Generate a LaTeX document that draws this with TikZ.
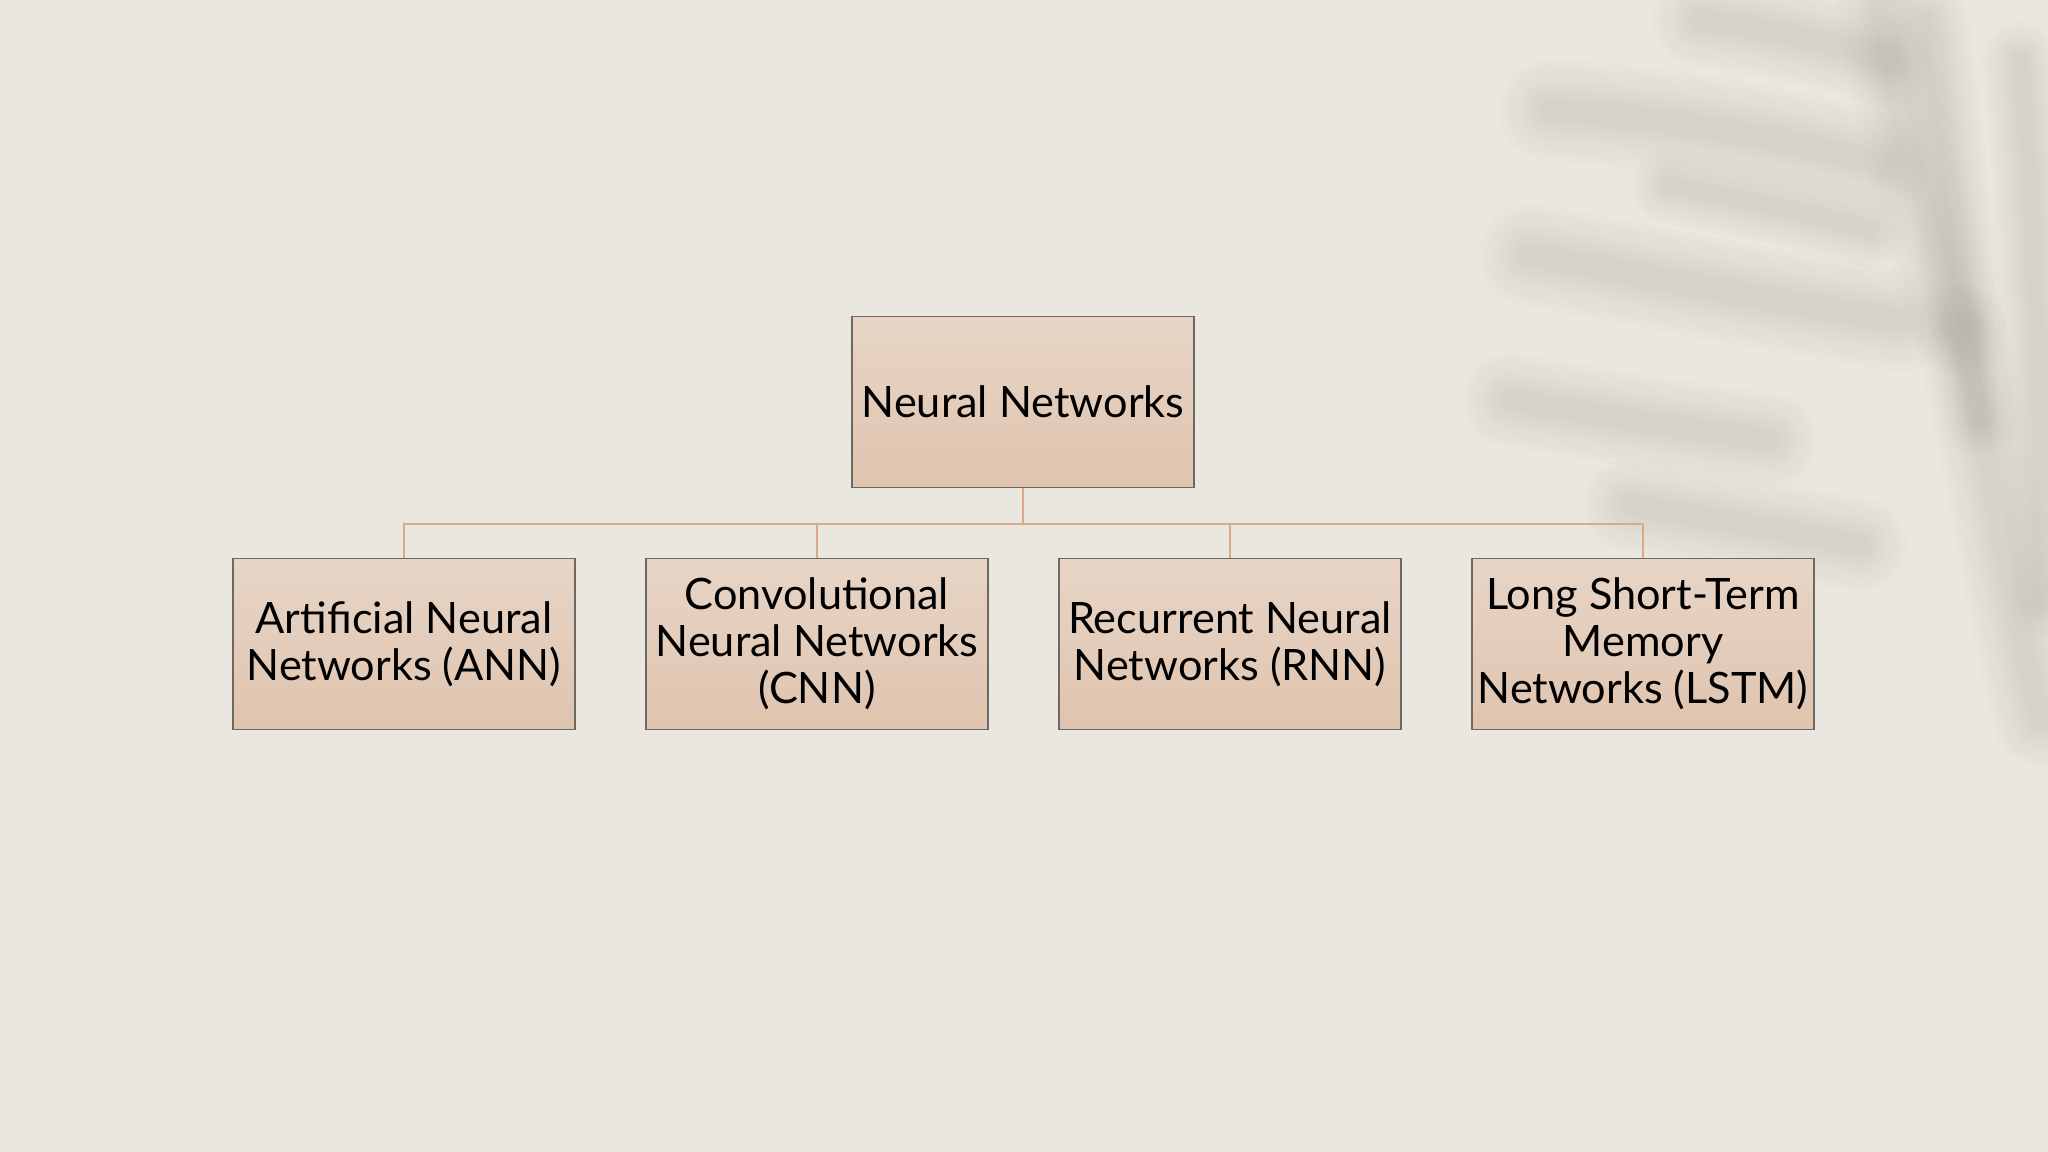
\documentclass[tikz,border=0pt]{standalone}
\usepackage{fontspec}
\setmainfont{Lato}
\definecolor{bgc}{HTML}{EAE7E1}
\definecolor{boxtop}{HTML}{E8D5C6}
\definecolor{boxbot}{HTML}{DFC4AF}
\definecolor{boxline}{HTML}{6F6761}
\definecolor{connc}{HTML}{D9A98A}
\definecolor{shadowc}{HTML}{9E9A94}
\tikzset{
  nnbox/.style={draw=boxline, line width=0.45pt, top color=boxtop, bottom color=boxbot,
    minimum width=3.42cm, minimum height=1.71cm, inner sep=0pt, align=center,
    font=\fontsize{12.3}{13.4}\selectfont, text=black},
  conn/.style={draw=connc, line width=0.6pt},
  leafshade/.style={draw=shadowc, line cap=round, opacity=0.028}
}
\newcommand{\blurpath}[2]{%
  \foreach \w in {2.4*#1,2.1*#1,1.8*#1,1.5*#1,1.3*#1,1.1*#1,0.9*#1,0.7*#1,0.5*#1}{\path[leafshade, line width=\w pt] #2;}}
\begin{document}
\begin{tikzpicture}[x=0.01cm,y=-0.01cm]
\useasboundingbox (0,0) rectangle (2048,1152);
\fill[bgc] (0,0) rectangle (2048,1152);
% blurred plant shadow
\begin{scope}
\clip (0,0) rectangle (2048,1152);
\blurpath{11}{(1880,-20) .. controls (1890,80) and (1920,200) .. (1960,330)}
\blurpath{11}{(1960,330) .. controls (1990,450) and (2010,600) .. (2040,720)}
\blurpath{11}{(1700,20) .. controls (1780,30) and (1840,45) .. (1885,60)}
\blurpath{12}{(1550,110) .. controls (1640,115) and (1780,135) .. (1880,165)}
\blurpath{12}{(1530,255) .. controls (1620,270) and (1760,300) .. (1900,320)}
\blurpath{11}{(1510,400) .. controls (1580,412) and (1680,428) .. (1770,440)}
\blurpath{11}{(1630,505) .. controls (1690,515) and (1780,530) .. (1860,545)}
\blurpath{9}{(1930,20) .. controls (1950,150) and (1960,300) .. (1980,420)}
\blurpath{9}{(2020,60) .. controls (2035,200) and (2040,400) .. (2045,600)}
\blurpath{9}{(1670,185) .. controls (1720,195) and (1800,210) .. (1870,230)}
\end{scope}
% nodes
\node[nnbox] (top) at (1023,402) {Neural Networks};
\node[nnbox] (ann) at (404,644) {Artificial Neural\\Networks (ANN)};
\node[nnbox] (cnn) at (817,644) {Convolutional\\Neural Networks\\(CNN)};
\node[nnbox] (rnn) at (1230,644) {Recurrent Neural\\Networks (RNN)};
\node[nnbox] (lstm) at (1643,644) {Long Short-Term\\Memory\\Networks (LSTM)};
% connectors
\coordinate (bus) at (1023,524);
\draw[conn] (top.south) -- (bus);
\draw[conn] (ann.north) |- (bus);
\draw[conn] (cnn.north) |- (bus);
\draw[conn] (rnn.north) |- (bus);
\draw[conn] (lstm.north) |- (bus);
\end{tikzpicture}
\end{document}
